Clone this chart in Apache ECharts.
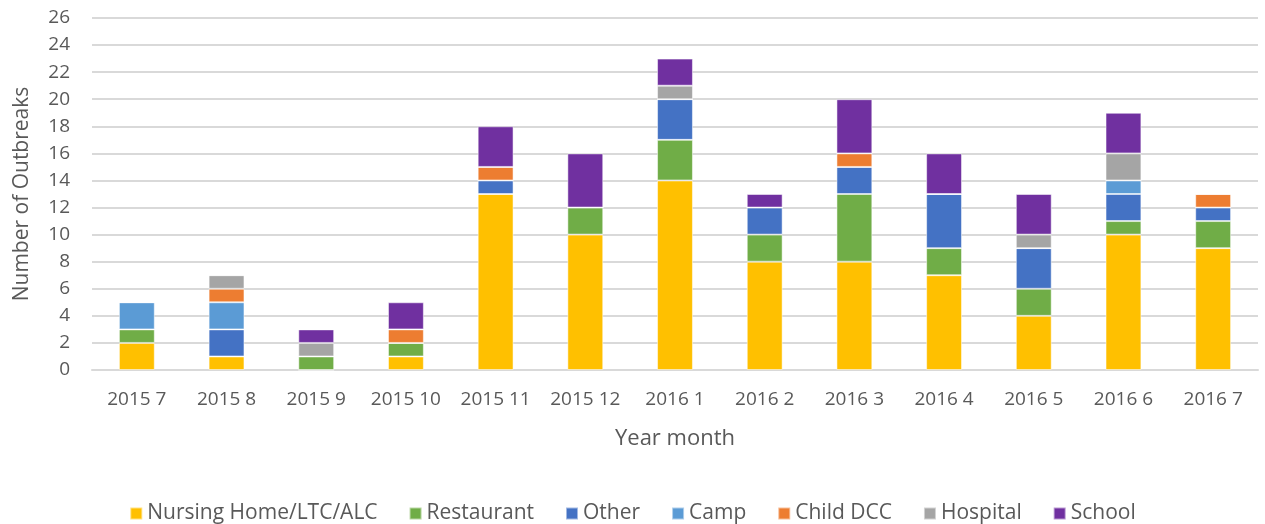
<!DOCTYPE html>
<html>
<head>
<meta charset="utf-8">
<script src="https://cdn.jsdelivr.net/npm/echarts@6/dist/echarts.min.js"></script>
<style>
  html, body { margin: 0; padding: 0; background: #fff; }
  #chart { width: 1265px; height: 524px; }
</style>
</head>
<body>
<div id="chart"></div>
<script>
const months = ["2015 7", "2015 8", "2015 9", "2015 10", "2015 11", "2015 12", "2016 1", "2016 2", "2016 3", "2016 4", "2016 5", "2016 6", "2016 7"];

const nursingHome = [2, 1, 0, 1, 13, 10, 14, 8, 8, 7, 4, 10, 9];
const restaurant = [1, 0, 1, 1, 0, 2, 3, 2, 5, 2, 2, 1, 2];
const other = [0, 2, 0, 0, 1, 0, 3, 2, 2, 4, 3, 2, 1];
const camp = [2, 2, 0, 0, 0, 0, 0, 0, 0, 0, 0, 1, 0];
const childDcc = [0, 1, 0, 1, 1, 0, 0, 0, 1, 0, 0, 0, 1];
const hospital = [0, 1, 1, 0, 0, 0, 1, 0, 0, 0, 1, 2, 0];
const school = [0, 0, 1, 2, 3, 4, 2, 1, 4, 3, 3, 3, 0];

const seriesDefs = [
  { name: "Nursing Home/LTC/ALC", data: nursingHome, color: "#ffc000" },
  { name: "Restaurant", data: restaurant, color: "#70ad47" },
  { name: "Other", data: other, color: "#4472c4" },
  { name: "Camp", data: camp, color: "#5b9bd5" },
  { name: "Child DCC", data: childDcc, color: "#ed7d31" },
  { name: "Hospital", data: hospital, color: "#a5a5a5" },
  { name: "School", data: school, color: "#7030a0" },
];

const textColor = "#595959";
const fontFamily = "'Open Sans', sans-serif";

const chart = echarts.init(document.getElementById("chart"));

chart.setOption({
  animation: false,
  textStyle: { fontFamily: fontFamily, color: textColor },
  grid: {
    top: 18,
    left: 92,
    right: 7,
    bottom: 154,
  },
  legend: {
    top: 498,
    left: "center",
    itemWidth: 12,
    itemHeight: 12,
    itemGap: 31,
    icon: "rect",
    textStyle: { fontSize: 21, color: textColor, fontFamily: fontFamily },
    data: seriesDefs.map((s) => s.name),
  },
  xAxis: {
    type: "category",
    data: months,
    name: "Year month",
    nameLocation: "middle",
    nameGap: 58,
    nameTextStyle: { fontSize: 22, color: textColor },
    axisTick: { show: false },
    axisLine: { lineStyle: { color: "#d9d9d9", width: 2 } },
    axisLabel: { fontSize: 19, color: textColor, margin: 20, interval: 0 },
  },
  yAxis: {
    type: "value",
    min: 0,
    max: 26,
    interval: 2,
    name: "Number of Outbreaks",
    nameLocation: "middle",
    nameGap: 59,
    nameTextStyle: { fontSize: 21, color: textColor },
    axisLine: { show: false },
    axisTick: { show: false },
    axisLabel: { fontSize: 19, color: textColor, margin: 22 },
    splitLine: { lineStyle: { color: "#d9d9d9", width: 2 } },
  },
  series: seriesDefs.map((s) => ({
    name: s.name,
    type: "bar",
    stack: "total",
    barWidth: "40%",
    data: s.data,
    itemStyle: { color: s.color, borderColor: "rgba(255,255,255,0.5)", borderWidth: 1 },
  })),
});
</script>
</body>
</html>
